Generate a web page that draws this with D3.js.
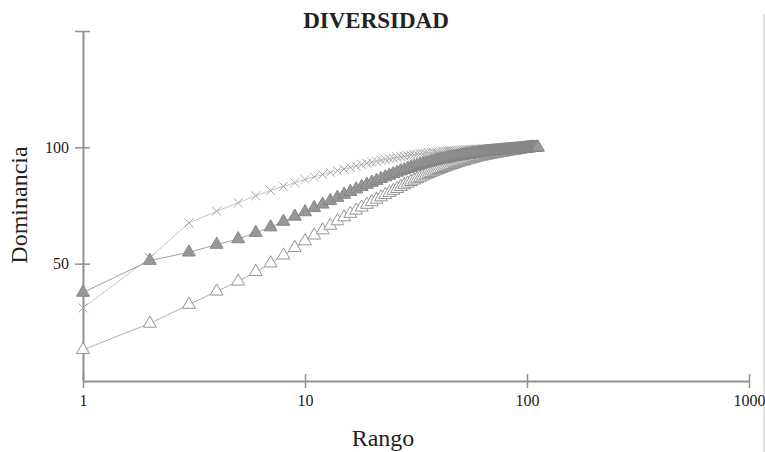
<!DOCTYPE html>
<html lang="es">

<head>
    <meta charset="UTF-8">
    <title>Diversidad</title>
    <script src="https://d3js.org/d3.v7.min.js"></script>
    <style>
        body {
            margin: 0;
            background: #fff;
        }

        text {
            font-family: "Liberation Serif", "DejaVu Serif", serif;
            fill: #222;
        }
    </style>
</head>

<body>

    <svg id="chart" width="765" height="452"></svg>

    <script>
        // x ticks (rango, escala log) and y ticks (dominancia)
        const xTicks = [1, 10, 100, 1000];
        const yTicks = [50, 100, 150];
        const yTickLabels = ["50", "100", ""];

        // cumulative dominance (%) by rank
        const crosses = [
            31.0, 52.5, 67.5, 72.5, 76.2, 79.2, 81.4, 83.2, 84.8, 86.2,
            87.3, 88.3, 89.2, 90.0, 90.7, 91.4, 92.0, 92.6, 93.1, 93.6,
            94.0, 94.4, 94.8, 95.1, 95.4, 95.7, 96.0, 96.2, 96.4, 96.6,
            96.8, 97.0, 97.2, 97.3, 97.5, 97.6, 97.7, 97.8, 97.9, 98.0,
            98.1, 98.2, 98.3, 98.4, 98.5, 98.5, 98.6, 98.6, 98.7, 98.7,
            98.8, 98.8, 98.9, 98.9, 99.0, 99.0, 99.1, 99.1, 99.2, 99.2,
            99.2, 99.3, 99.3, 99.3, 99.4, 99.4, 99.4, 99.4, 99.5, 99.5,
            99.5, 99.5, 99.6, 99.6, 99.6, 99.6, 99.6, 99.7, 99.7, 99.7,
            99.7, 99.7, 99.8, 99.8, 99.8, 99.8, 99.8, 99.9, 99.9, 99.9,
            99.9, 99.9, 99.9, 100, 100, 100, 100, 100
        ];

        const filledTri = [
            37.6, 51.3, 54.9, 58.2, 60.6, 63.3, 65.7, 68.1, 70.3, 72.2,
            74.0, 75.5, 77.0, 78.4, 79.7, 80.9, 82.0, 83.0, 84.0, 84.9,
            85.7, 86.5, 87.2, 87.9, 88.6, 89.2, 89.8, 90.3, 90.8, 91.3,
            91.7, 92.1, 92.5, 92.9, 93.2, 93.5, 93.8, 94.1, 94.4, 94.6,
            94.8, 95.0, 95.2, 95.4, 95.6, 95.8, 95.9, 96.1, 96.2, 96.4,
            96.5, 96.6, 96.8, 96.9, 97.0, 97.1, 97.2, 97.3, 97.4, 97.5,
            97.6, 97.7, 97.8, 97.9, 98.0, 98.1, 98.1, 98.2, 98.3, 98.3,
            98.4, 98.4, 98.5, 98.6, 98.6, 98.7, 98.7, 98.8, 98.8, 98.9,
            98.9, 98.9, 99.0, 99.0, 99.1, 99.1, 99.1, 99.2, 99.2, 99.2,
            99.3, 99.3, 99.4, 99.4, 99.4, 99.5, 99.5, 99.6, 99.6, 99.6,
            99.7, 99.7, 99.7, 99.8, 99.8, 99.8, 99.9, 99.9, 99.9, 100,
            100, 100
        ];

        const openTri = [
            13.0, 24.3, 32.4, 38.1, 42.4, 46.5, 50.2, 53.6, 56.8, 59.7,
            62.2, 64.4, 66.4, 68.3, 70.0, 71.5, 72.9, 74.2, 75.4, 76.5,
            77.6, 78.6, 79.6, 80.5, 81.4, 82.2, 83.0, 83.8, 84.5, 85.2,
            85.8, 86.4, 87.0, 87.6, 88.1, 88.6, 89.1, 89.6, 90.0, 90.4,
            90.8, 91.2, 91.6, 91.9, 92.2, 92.5, 92.8, 93.1, 93.4, 93.7,
            93.9, 94.1, 94.4, 94.6, 94.8, 95.0, 95.2, 95.4, 95.6, 95.8,
            95.9, 96.1, 96.2, 96.4, 96.5, 96.6, 96.8, 96.9, 97.0, 97.1,
            97.2, 97.3, 97.4, 97.5, 97.6, 97.7, 97.8, 97.9, 98.0, 98.1,
            98.2, 98.3, 98.4, 98.5, 98.5, 98.6, 98.7, 98.8, 98.8, 98.9,
            99.0, 99.1, 99.1, 99.2, 99.3, 99.4, 99.4, 99.5, 99.6, 99.7,
            99.7, 99.8, 99.9, 99.9, 100, 100
        ];

        const svg = d3.select("#chart");

        // plot area in page pixels
        const plotLeft = 83, plotRight = 749, plotTop = 31, plotBottom = 380;

        const x = d3.scaleLog().domain([1, 1000]).range([plotLeft, plotRight]);
        const y = d3.scaleLinear().domain([0, 150]).range([plotBottom, plotTop]);

        const axisColor = "#909090";

        // right-hand border line
        svg.append("line")
            .attr("x1", 764).attr("x2", 764)
            .attr("y1", 14).attr("y2", 452)
            .attr("stroke", "#c8c8c8")
            .attr("stroke-width", 1);

        // x axis
        const gx = svg.append("g")
            .attr("transform", `translate(0,${plotBottom + 1})`)
            .call(d3.axisBottom(x).tickValues(xTicks).tickFormat(d3.format("d")).tickSizeOuter(0));
        gx.select(".domain").attr("stroke", axisColor).attr("stroke-width", 2);
        gx.selectAll(".tick line").attr("stroke", axisColor).attr("stroke-width", 1.5)
            .attr("y1", -7).attr("y2", 7);
        gx.selectAll(".tick text")
            .attr("y", 14)
            .style("font-size", "16px")
            .style("font-family", "'Liberation Serif', serif")
            .attr("fill", "#111");

        // y axis
        const gy = svg.append("g")
            .attr("transform", `translate(${plotLeft},0)`)
            .call(d3.axisLeft(y).tickValues(yTicks).tickFormat((d, i) => yTickLabels[i]).tickSizeOuter(0));
        gy.select(".domain").attr("stroke", axisColor).attr("stroke-width", 2);
        gy.selectAll(".tick line").attr("stroke", axisColor).attr("stroke-width", 1.5)
            .attr("x1", -8).attr("x2", 7);
        gy.selectAll(".tick text")
            .attr("x", -14)
            .style("font-size", "16px")
            .style("font-family", "'Liberation Serif', serif")
            .attr("fill", "#111");

        // series
        const series = [
            { name: "open", values: openTri, line: "#b0b0b0", symbol: d3.symbolTriangle, size: 72, fill: "#fff", stroke: "#939393" },
            { name: "cross", values: crosses, line: "#c4c4c4", symbol: d3.symbolX, size: 55, fill: "none", stroke: "#a8a8a8" },
            { name: "filled", values: filledTri, line: "#a0a0a0", symbol: d3.symbolTriangle, size: 72, fill: "#989898", stroke: "#858585" }
        ];

        const line = d3.line()
            .x((d, i) => x(i + 1))
            .y(d => y(d));

        series.forEach(s => {
            svg.append("path")
                .datum(s.values)
                .attr("fill", "none")
                .attr("stroke", s.line)
                .attr("stroke-width", 1)
                .attr("d", line);
        });

        series.forEach(s => {
            svg.append("g")
                .selectAll("path")
                .data(s.values)
                .enter().append("path")
                .attr("transform", (d, i) => `translate(${x(i + 1)},${y(d)})`)
                .attr("d", d3.symbol().type(s.symbol).size(s.size))
                .attr("fill", s.fill)
                .attr("stroke", s.stroke)
                .attr("stroke-width", 1);
        });

        // titles
        svg.append("text")
            .attr("x", 376)
            .attr("y", 28)
            .attr("text-anchor", "middle")
            .style("font-size", "23px")
            .style("font-weight", "bold")
            .text("DIVERSIDAD");

        svg.append("text")
            .attr("transform", "translate(27,205) rotate(-90)")
            .attr("text-anchor", "middle")
            .style("font-size", "24px")
            .text("Dominancia");

        svg.append("text")
            .attr("x", 383)
            .attr("y", 446)
            .attr("text-anchor", "middle")
            .style("font-size", "24px")
            .text("Rango");
    </script>

</body>

</html>
